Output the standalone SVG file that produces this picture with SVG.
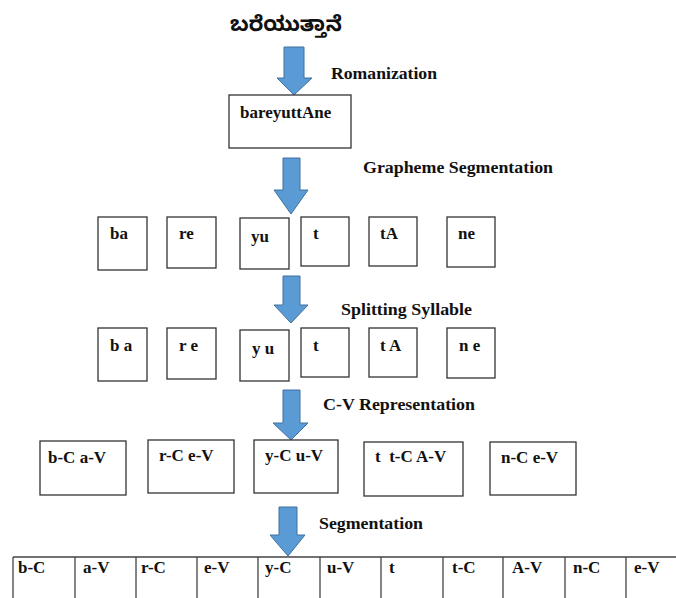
<svg xmlns="http://www.w3.org/2000/svg" width="676" height="598" viewBox="0 0 676 598">
<defs>
<style>
.t{font-family:"Liberation Serif","Times New Roman",serif;font-weight:bold;font-size:17px;fill:#111}
.lbl{font-family:"Liberation Serif","Times New Roman",serif;font-weight:bold;font-size:17px;fill:#111}
.kn{font-family:"Noto Sans Kannada","Tunga","Noto Sans","DejaVu Sans",sans-serif;font-weight:bold;font-size:21px;fill:#111}
.box{fill:#fff;stroke:#333;stroke-width:1.3}
.arr{fill:#5B9BD5;stroke:#41719C;stroke-width:1}
.grid{stroke:#444;stroke-width:1.3;fill:none}
</style>
</defs>
<rect width="676" height="598" fill="#fff"/>

<g id="source"><text class="kn" x="230" y="31">ಬರೆಯುತ್ತಾನೆ</text></g>

<g id="connectors">
<path class="arr" d="M284,47 H304 V78 H312 L294,95 L277,78 H284 Z"/>
<path class="arr" d="M283,158 H300 V190 H308 L291,214 L274,190 H283 Z"/>
<path class="arr" d="M283,276 H300 V305 H308 L291,323 L274,305 H283 Z"/>
<path class="arr" d="M283,390 H300 V423 H308 L291,440 L273,423 H283 Z"/>
<path class="arr" d="M279,507 H297 V535 H305 L288,556 L270,535 H279 Z"/>
</g>

<g id="labels">
<text class="lbl" x="331" y="79" textLength="106" lengthAdjust="spacingAndGlyphs">Romanization</text>
<text class="lbl" x="363" y="173" textLength="190" lengthAdjust="spacingAndGlyphs">Grapheme Segmentation</text>
<text class="lbl" x="341" y="315" textLength="131" lengthAdjust="spacingAndGlyphs">Splitting Syllable</text>
<text class="lbl" x="323" y="410" textLength="152" lengthAdjust="spacingAndGlyphs">C-V Representation</text>
<text class="lbl" x="319" y="529" textLength="104" lengthAdjust="spacingAndGlyphs">Segmentation</text>
</g>

<g id="romanized"><rect class="box" x="229" y="95" width="122" height="53"/><text class="t" x="240" y="118">bareyuttAne</text></g>

<g id="g-ba"><rect class="box" x="98" y="217" width="49" height="53"/><text class="t" x="110" y="239">ba</text></g>
<g id="g-re"><rect class="box" x="167" y="217" width="49" height="51"/><text class="t" x="179" y="239">re</text></g>
<g id="g-yu"><rect class="box" x="240" y="218" width="49" height="51"/><text class="t" x="251" y="242">yu</text></g>
<g id="g-t"><rect class="box" x="301" y="217" width="48" height="49"/><text class="t" x="313" y="239">t</text></g>
<g id="g-tA"><rect class="box" x="369" y="217" width="48" height="49"/><text class="t" x="380" y="239">tA</text></g>
<g id="g-ne"><rect class="box" x="447" y="217" width="48" height="50"/><text class="t" x="458" y="239">ne</text></g>

<g id="s-ba"><rect class="box" x="98" y="328" width="49" height="53"/><text class="t" x="110" y="351">b a</text></g>
<g id="s-re"><rect class="box" x="167" y="328" width="49" height="51"/><text class="t" x="179" y="351">r e</text></g>
<g id="s-yu"><rect class="box" x="240" y="330" width="49" height="51"/><text class="t" x="252" y="354">y u</text></g>
<g id="s-t"><rect class="box" x="301" y="328" width="48" height="49"/><text class="t" x="313" y="351">t</text></g>
<g id="s-tA"><rect class="box" x="369" y="328" width="48" height="49"/><text class="t" x="380" y="351">t A</text></g>
<g id="s-ne"><rect class="box" x="447" y="328" width="48" height="50"/><text class="t" x="459" y="351">n e</text></g>

<g id="cv-ba"><rect class="box" x="40" y="441" width="86" height="54"/><text class="t" x="48" y="463">b-C  a-V</text></g>
<g id="cv-re"><rect class="box" x="148" y="440" width="86" height="53"/><text class="t" x="159" y="461">r-C e-V</text></g>
<g id="cv-yu"><rect class="box" x="254" y="440" width="84" height="53"/><text class="t" x="265" y="461">y-C u-V</text></g>
<g id="cv-ttA"><rect class="box" x="364" y="442" width="99" height="54"/><text class="t" x="375" y="462" xml:space="preserve">t  t-C A-V</text></g>
<g id="cv-ne"><rect class="box" x="490" y="442" width="86" height="53"/><text class="t" x="501" y="463">n-C e-V</text></g>

<g id="segments">
<path class="grid" d="M13,557 H676 M13,557 V598 M75,557 V598 M136,557 V598 M197,557 V598 M258,557 V598 M320,557 V598 M381,557 V598 M443,557 V598 M503,557 V598 M565,557 V598 M626,557 V598"/>
<text class="t" x="18" y="573">b-C</text>
<text class="t" x="83" y="573">a-V</text>
<text class="t" x="141" y="573">r-C</text>
<text class="t" x="204" y="573">e-V</text>
<text class="t" x="265" y="573">y-C</text>
<text class="t" x="327" y="573">u-V</text>
<text class="t" x="389" y="573">t</text>
<text class="t" x="452" y="573">t-C</text>
<text class="t" x="512" y="573">A-V</text>
<text class="t" x="573" y="573">n-C</text>
<text class="t" x="634" y="573">e-V</text>
</g>
</svg>
